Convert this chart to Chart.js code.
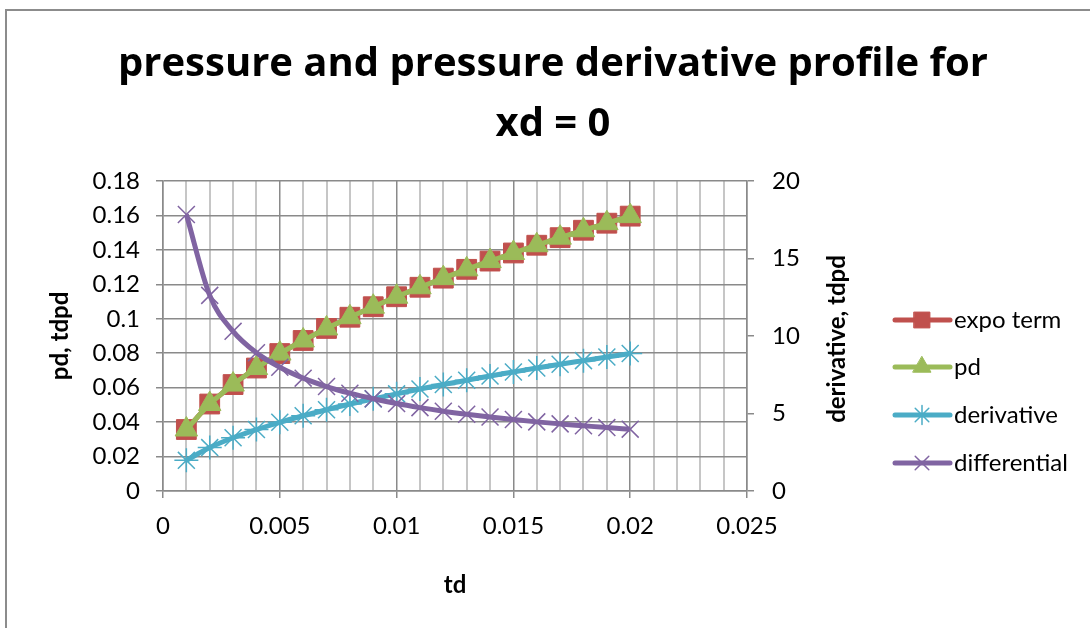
<!DOCTYPE html>
<html>
<head>
<meta charset="utf-8">
<script src="https://cdn.jsdelivr.net/npm/chart.js@4.4.1/dist/chart.umd.min.js"></script>
<style>
  html, body { margin: 0; padding: 0; background: #fff; overflow: hidden; }
  #frame { position: absolute; left: 5px; top: 9px; width: 1100px; height: 640px;
           border-left: 2px solid #8c8c8c; border-top: 2px solid #8c8c8c; }
  #wrap { position: absolute; left: 0; top: 0; width: 1090px; height: 628px; }
</style>
</head>
<body>
<div id="frame"></div>
<div id="wrap"><canvas id="chart"></canvas></div>
<script>
// values
const td = [0.001, 0.002, 0.003, 0.004, 0.005, 0.006, 0.007, 0.008, 0.009, 0.010,
            0.011, 0.012, 0.013, 0.014, 0.015, 0.016, 0.017, 0.018, 0.019, 0.020];
const expoTerm = [0.0357, 0.0505, 0.0618, 0.0714, 0.0798, 0.0874, 0.0944, 0.1009, 0.1070, 0.1128,
                  0.1183, 0.1236, 0.1287, 0.1335, 0.1382, 0.1427, 0.1471, 0.1514, 0.1555, 0.1596];
const pd = [0.0357, 0.0505, 0.0618, 0.0714, 0.0798, 0.0874, 0.0944, 0.1009, 0.1070, 0.1128,
            0.1183, 0.1236, 0.1287, 0.1335, 0.1382, 0.1427, 0.1471, 0.1514, 0.1555, 0.1596];
const derivative = [0.0178, 0.0252, 0.0309, 0.0357, 0.0399, 0.0437, 0.0472, 0.0505, 0.0535, 0.0564,
                    0.0592, 0.0618, 0.0643, 0.0668, 0.0691, 0.0714, 0.0736, 0.0757, 0.0778, 0.0798];
const differential = [17.84, 12.62, 10.30, 8.92, 7.98, 7.28, 6.74, 6.31, 5.95, 5.64,
                      5.38, 5.15, 4.95, 4.77, 4.61, 4.46, 4.33, 4.21, 4.09, 3.99];

const xRange = [0, 0.025];
const leftRange = [0, 0.18];
const rightRange = [0, 20];

const FONT = 'Lato';
const TITLE_FONT = '"Open Sans"';
const GRID_DARK = '#8a8a8a';
const GRID_LIGHT = '#c6c6c6';

function pts(ys) {
  return td.map((t, i) => ({ x: t, y: ys[i] }));
}

const series = [
  { label: 'expo term', data: expoTerm, color: '#C0504D', style: 'rect', radius: 14, axis: 'y', order: 4 },
  { label: 'pd', data: pd, color: '#9BBB59', style: 'triangle', radius: 13, axis: 'y', order: 3 },
  { label: 'derivative', data: derivative, color: '#4BACC6', style: 'star', radius: 12, axis: 'y', order: 2 },
  { label: 'differential', data: differential, color: '#8064A2', style: 'crossRot', radius: 12, axis: 'y2', order: 1 }
];

const datasets = series.map(s => ({
  label: s.label,
  data: pts(s.data),
  yAxisID: s.axis,
  order: s.order,
  borderColor: s.color,
  backgroundColor: s.color,
  borderWidth: 5,
  cubicInterpolationMode: 'monotone',
  pointStyle: s.style,
  pointRadius: s.radius,
  pointHoverRadius: s.radius,
  pointBorderWidth: (s.style === 'star' || s.style === 'crossRot') ? 1.5 : 1,
  pointBackgroundColor: s.color,
  pointBorderColor: s.color
}));

// right axis title (reads bottom to top) and the Excel style legend
const extras = {
  id: 'extras',
  afterDraw(chart) {
    const ctx = chart.ctx;
    const area = chart.chartArea;
    ctx.save();
    ctx.fillStyle = '#000';
    ctx.font = 'bold 24px ' + FONT;
    ctx.textAlign = 'center';
    ctx.textBaseline = 'middle';
    ctx.translate(837, (area.top + area.bottom) / 2 + 3);
    ctx.rotate(-Math.PI / 2);
    ctx.fillText('derivative, tdpd', 0, 0);
    ctx.restore();

    const rows = [320, 367, 415, 463];
    series.forEach((s, i) => {
      const y = rows[i];
      ctx.save();
      ctx.strokeStyle = s.color;
      ctx.fillStyle = s.color;
      ctx.lineWidth = 5;
      ctx.lineCap = 'round';
      ctx.beginPath();
      ctx.moveTo(895, y);
      ctx.lineTo(950, y);
      ctx.stroke();
      ctx.lineWidth = (s.style === 'star' || s.style === 'crossRot') ? 1.5 : 1;
      Chart.helpers.drawPoint(ctx, {
        pointStyle: s.style,
        radius: s.radius * 0.8,
        rotation: 0,
        borderWidth: ctx.lineWidth
      }, 922, y);
      ctx.fillStyle = '#000';
      ctx.font = '24px ' + FONT;
      ctx.textAlign = 'left';
      ctx.textBaseline = 'middle';
      ctx.fillText(s.label, 954, y);
      ctx.restore();
    });
  }
};

new Chart(document.getElementById('chart'), {
  type: 'line',
  data: { datasets: datasets },
  plugins: [extras],
  options: {
    responsive: true,
    maintainAspectRatio: false,
    animation: false,
    layout: { padding: { left: 16, right: 0, top: 0, bottom: 0 } },
    plugins: {
      legend: { display: false },
      tooltip: { enabled: false },
      title: {
        display: true,
        text: ['pressure and pressure derivative profile for', 'xd = 0'],
        color: '#000',
        font: { family: TITLE_FONT, size: 40, weight: 'bold', lineHeight: 1.5 },
        padding: { top: 35, bottom: 26 }
      }
    },
    scales: {
      x: {
        type: 'linear',
        min: xRange[0],
        max: xRange[1],
        afterFit: s => { s.height = 137; },
        ticks: {
          stepSize: 0.001,
          autoSkip: false,
          maxRotation: 0,
          padding: 14,
          color: '#000',
          font: { family: FONT, size: 24 },
          callback: (v, i) => (i % 5 === 0 ? String(Number(v.toFixed(3))) : '')
        },
        grid: {
          color: c => (c.index % 5 === 0 ? GRID_DARK : GRID_LIGHT),
          lineWidth: c => (c.index % 5 === 0 ? 1.5 : 2),
          tickLength: 7,
          tickColor: c => (c.index % 5 === 0 ? GRID_DARK : 'rgba(0,0,0,0)')
        },
        border: { color: GRID_DARK, width: 1.5 },
        title: {
          display: true, text: 'td', color: '#000',
          font: { family: FONT, size: 24, weight: 'bold' },
          padding: { top: 0, bottom: 28 }
        }
      },
      y: {
        position: 'left',
        min: leftRange[0],
        max: leftRange[1],
        afterFit: s => { s.width = 147; },
        ticks: {
          stepSize: 0.02,
          padding: 16,
          color: '#000',
          font: { family: FONT, size: 24 },
          callback: v => String(Number(v.toFixed(2)))
        },
        grid: { color: GRID_DARK, lineWidth: 1.5, tickLength: 7 },
        border: { color: GRID_DARK, width: 1.5 },
        title: {
          display: true, text: 'pd, tdpd', color: '#000',
          font: { family: FONT, size: 24, weight: 'bold' },
          padding: { top: 30, bottom: 0 }
        }
      },
      y2: {
        position: 'right',
        min: rightRange[0],
        max: rightRange[1],
        afterFit: s => { s.width = 1090 - 747; },
        ticks: {
          stepSize: 5,
          padding: 18,
          color: '#000',
          font: { family: FONT, size: 24 }
        },
        grid: { drawOnChartArea: false, color: GRID_DARK, lineWidth: 1.5, tickLength: 7 },
        border: { color: GRID_DARK, width: 1.5 }
      }
    }
  }
});
</script>
</body>
</html>
